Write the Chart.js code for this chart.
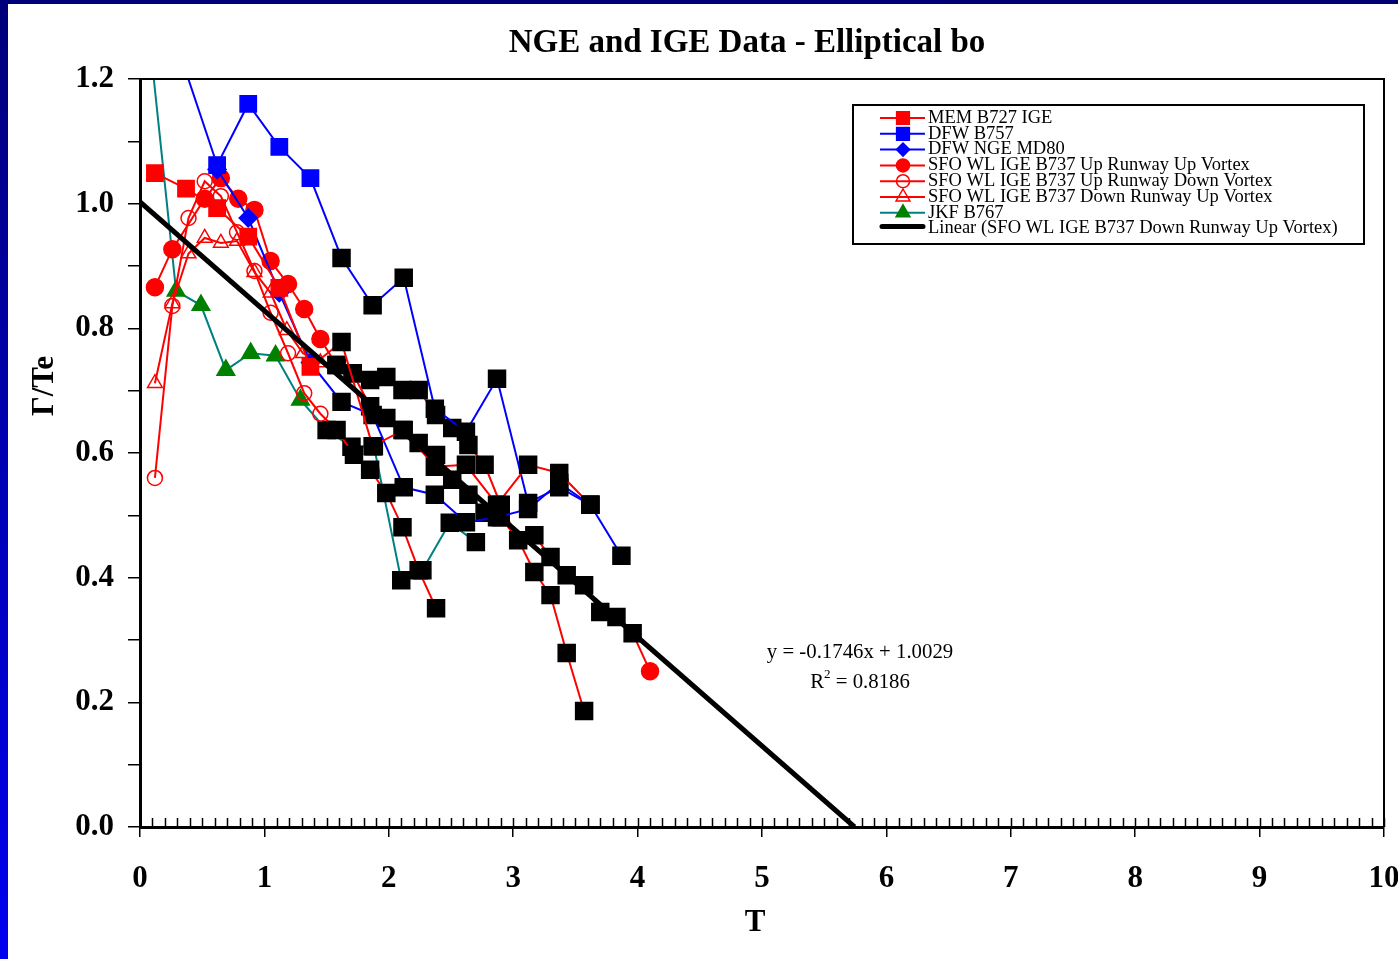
<!DOCTYPE html>
<html><head><meta charset="utf-8">
<script src="https://cdn.jsdelivr.net/npm/chart.js@4.4.0/dist/chart.umd.min.js"></script>
<style>html,body{margin:0;padding:0;background:#fff;overflow:hidden}canvas{display:block}</style>
</head><body>
<canvas id="c" width="1398" height="959"></canvas>
<script>
// ---------- text ----------
const chartTitle = 'NGE and IGE Data - Elliptical bo';
const xAxisTitle = 'T';
const yAxisTitle = 'Γ/Te';
const seriesNames = [
  'MEM B727 IGE',
  'DFW B757',
  'DFW NGE MD80',
  'SFO WL IGE B737 Up Runway Up Vortex',
  'SFO WL IGE B737 Up Runway Down Vortex',
  'SFO WL IGE B737 Down Runway Up Vortex',
  'JKF B767',
  'Linear (SFO WL IGE B737 Down Runway Up Vortex)'
];
// ---------- data (T, Γ/Te) ----------
const memT = [0.12,0.37,0.62,0.87,1.12,1.37,1.62,1.87,2.12,2.37,2.62,2.87,3.12,3.37,3.62];
const memG = [1.049,1.024,0.993,0.947,0.865,0.738,0.778,0.611,0.637,0.578,0.581,0.517,0.581,0.568,0.517];

const b757T = [0.12,0.31,0.62,0.87,1.12,1.37,1.62,1.87,2.12,2.37,2.62,2.87,3.12,3.37,3.62,3.87];
const b757G = [1.35,1.247,1.062,1.16,1.091,1.041,0.913,0.837,0.881,0.671,0.634,0.719,0.52,0.545,0.517,0.435];

const md80T = [0.62,0.87,1.12,1.37,1.62,1.87,2.12,2.37,2.62,2.87,3.12,3.37,3.62];
const md80G = [1.055,0.977,0.857,0.745,0.682,0.661,0.545,0.533,0.489,0.497,0.51,0.552,0.517];

const upUpT = [0.12,0.26,0.52,0.65,0.79,0.92,1.05,1.19,1.32,1.45,1.58,1.71,1.85,1.98,2.11,2.24,2.38,2.51,2.64,2.77,2.9,3.04,3.17,3.3,3.43,3.57,3.7,3.83,3.96,4.1];
const upUpG = [0.866,0.927,1.008,1.041,1.008,0.99,0.908,0.871,0.831,0.783,0.741,0.728,0.675,0.656,0.637,0.616,0.597,0.557,0.533,0.504,0.497,0.46,0.468,0.433,0.404,0.388,0.345,0.337,0.311,0.25];

const upDownT = [0.12,0.26,0.39,0.52,0.65,0.78,0.92,1.05,1.19,1.32,1.45,1.58,1.72,1.85,1.98,2.11,2.24,2.38];
const upDownG = [0.56,0.836,0.977,1.036,1.012,0.954,0.892,0.825,0.76,0.696,0.663,0.637,0.597,0.573,0.536,0.481,0.412,0.351];

const downUpT = [0.12,0.26,0.39,0.52,0.65,0.78,0.92,1.05,1.18,1.31,1.45,1.58,1.71,1.85,1.98,2.11,2.24,2.38,2.51,2.64,2.77,2.9,3.17,3.3,3.43,3.57];
const downUpG = [0.712,0.84,0.92,0.945,0.937,0.94,0.89,0.857,0.797,0.76,0.745,0.741,0.728,0.717,0.722,0.701,0.701,0.661,0.64,0.613,0.581,0.517,0.409,0.372,0.279,0.186];

const jkfT = [0.09,0.29,0.49,0.69,0.89,1.09,1.29,1.5,1.7,1.88,2.1,2.27,2.49,2.7];
const jkfG = [1.24,0.86,0.837,0.733,0.76,0.756,0.685,0.637,0.61,0.611,0.396,0.412,0.488,0.457];

// linear trendline of the Down Runway Up Vortex series
const trendSlope = -0.1746;
const trendIntercept = 1.0029;
const trendR2 = 0.8186;

// axes
const xMin = 0, xMax = 10, xStep = 1, xMinorStep = 0.1;
const yMin = 0, yMax = 1.2, yStep = 0.1, yLabelStep = 0.2;
// range of T where markers are highlighted as black squares
const highlightFrom = 1.5, highlightTo = 4.0;

// ---------- helpers ----------
const FONT = 'Liberation Serif';
const isHi = c => c && c.raw && c.raw.x >= highlightFrom && c.raw.x <= highlightTo;
function series(i, xs, ys, color, style, fill, radius) {
  return {
    label: seriesNames[i],
    data: xs.map((x, k) => ({x: x, y: ys[k]})),
    showLine: true,
    borderColor: color,
    backgroundColor: color,
    borderWidth: 2,
    tension: 0,
    order: i + 1,
    clip: {left: 0, top: 0, right: 0, bottom: 0},
    markerStyle: style, markerFill: fill, markerColor: color,
    pointStyle: c => isHi(c) ? 'rect' : style,
    pointRadius: c => isHi(c) ? 12 : radius,
    pointBackgroundColor: c => isHi(c) ? '#000' : fill,
    pointBorderColor: c => isHi(c) ? '#000' : color,
    pointBorderWidth: 1.5
  };
}
const NONE = 'rgba(0,0,0,0)';
const datasets = [
  series(0, memT, memG, '#ff0000', 'rect', '#ff0000', 11.5),
  series(1, b757T, b757G, '#0000ff', 'rect', '#0000ff', 11.5),
  series(2, md80T, md80G, '#0000ff', 'rectRot', '#0000ff', 9),
  series(3, upUpT, upUpG, '#ff0000', 'circle', '#ff0000', 8.5),
  series(4, upDownT, upDownG, '#ff0000', 'circle', NONE, 7.5),
  series(5, downUpT, downUpG, '#ff0000', 'triangle', NONE, 8.5),
  series(6, jkfT, jkfG, '#008080', 'triangle', '#008000', 10.2)
];
datasets[6].pointBorderColor = c => isHi(c) ? '#000' : '#008000';
datasets[6].markerBorder = '#008000';
const trendEnd = trendIntercept / -trendSlope;
datasets.push({
  label: seriesNames[7],
  data: [0, trendEnd].map(x => ({x: x, y: trendIntercept + trendSlope * x})),
  showLine: true, borderColor: '#000', borderWidth: 5, pointRadius: 0, order: 0,
  clip: {left: 0, top: 0, right: 0, bottom: 0},
  isTrend: true
});

function marker(ctx, style, x, y, r, fill, stroke) {
  ctx.save();
  ctx.beginPath();
  if (style === 'rect') { const s = Math.SQRT1_2 * r; ctx.rect(x - s, y - s, 2 * s, 2 * s); }
  else if (style === 'rectRot') { ctx.moveTo(x - r, y); ctx.lineTo(x, y - r); ctx.lineTo(x + r, y); ctx.lineTo(x, y + r); ctx.closePath(); }
  else if (style === 'triangle') { ctx.moveTo(x, y - r); ctx.lineTo(x + r * 0.866, y + r / 2); ctx.lineTo(x - r * 0.866, y + r / 2); ctx.closePath(); }
  else { ctx.arc(x, y, r, 0, Math.PI * 2); }
  ctx.fillStyle = fill; ctx.fill();
  ctx.lineWidth = 1.5; ctx.strokeStyle = stroke; ctx.stroke();
  ctx.restore();
}

const decor = {
  id: 'decor',
  beforeDraw(chart) {
    const ctx = chart.ctx, W = chart.width, H = chart.height;
    ctx.save();
    ctx.fillStyle = '#fff'; ctx.fillRect(0, 0, W, H);
    let g = ctx.createLinearGradient(0, 0, 0, H);
    g.addColorStop(0, '#00007a'); g.addColorStop(1, '#0000f0');
    ctx.fillStyle = g; ctx.fillRect(0, 0, 8, H);
    g = ctx.createLinearGradient(0, 0, W, 0);
    g.addColorStop(0, '#00007c'); g.addColorStop(1, '#000070');
    ctx.fillStyle = g; ctx.fillRect(0, 0, W, 4);
    ctx.restore();
  },
  afterDraw(chart) {
    const ctx = chart.ctx, a = chart.chartArea;
    const xs = chart.scales.x;
    ctx.save();
    // plot border (top, right)
    ctx.strokeStyle = '#000'; ctx.lineWidth = 2;
    ctx.beginPath(); ctx.moveTo(a.left, a.top); ctx.lineTo(a.right, a.top); ctx.lineTo(a.right, a.bottom); ctx.stroke();
    // inward minor ticks on x axis
    ctx.lineWidth = 1.5;
    ctx.beginPath();
    for (let k = 0; k <= Math.round((xMax - xMin) / xMinorStep); k++) {
      const px = Math.round(xs.getPixelForValue(xMin + k * xMinorStep)) + 0.5;
      ctx.moveTo(px, a.bottom); ctx.lineTo(px, a.bottom - 9);
    }
    ctx.stroke();
    // title
    ctx.fillStyle = '#000';
    ctx.textAlign = 'center'; ctx.textBaseline = 'middle';
    ctx.font = 'bold 33px "' + FONT + '"';
    ctx.fillText(chartTitle, 747, 43);
    // axis titles
    ctx.font = 'bold 31px "' + FONT + '"';
    ctx.fillText(xAxisTitle, 755, 923);
    ctx.save(); ctx.translate(45, 386); ctx.rotate(-Math.PI / 2);
    ctx.fillText(yAxisTitle, 0, 0); ctx.restore();
    // trend equation
    ctx.font = '20.8px "' + FONT + '"';
    ctx.fillText('y = ' + trendSlope.toFixed(4) + 'x + ' + trendIntercept.toFixed(4), 860, 653);
    const rest = ' = ' + trendR2.toFixed(4);
    const wR = ctx.measureText('R').width, wRest = ctx.measureText(rest).width;
    ctx.font = '13px "' + FONT + '"';
    const w2 = ctx.measureText('2').width;
    const x0 = 860 - (wR + w2 + wRest) / 2;
    ctx.textAlign = 'left';
    ctx.fillText('2', x0 + wR, 675);
    ctx.font = '20.8px "' + FONT + '"';
    ctx.fillText('R', x0, 683);
    ctx.fillText(rest, x0 + wR + w2, 683);
    // legend
    const lx = 853, ly = 105, lw = 511, lh = 139;
    ctx.lineWidth = 2; ctx.strokeStyle = '#000';
    ctx.strokeRect(lx, ly, lw, lh);
    ctx.font = '18.5px "' + FONT + '"';
    ctx.textAlign = 'left';
    chart.data.datasets.forEach((ds, i) => {
      const y = 118 + i * 15.8;
      ctx.beginPath();
      if (ds.isTrend) {
        ctx.lineWidth = 5; ctx.lineCap = 'round'; ctx.strokeStyle = '#000';
        ctx.moveTo(882, y - 2); ctx.lineTo(923, y - 2); ctx.stroke();
      } else {
        ctx.lineWidth = 2; ctx.lineCap = 'butt'; ctx.strokeStyle = ds.markerColor;
        ctx.moveTo(880, y); ctx.lineTo(925, y); ctx.stroke();
        marker(ctx, ds.markerStyle, 903, y, ds.markerStyle === 'rect' ? 9 : (ds.markerStyle === 'triangle' ? 8 : 6.5),
               ds.markerFill, ds.markerBorder || ds.markerColor);
      }
      ctx.fillStyle = '#000';
      ctx.fillText(ds.label, 928, y);
    });
    ctx.restore();
  }
};

new Chart(document.getElementById('c'), {
  type: 'scatter',
  data: {datasets: datasets},
  plugins: [decor],
  options: {
    responsive: false,
    animation: false,
    events: [],
    layout: {padding: {top: 79, right: 14, left: 0, bottom: 0}, autoPadding: false},
    plugins: {legend: {display: false}, title: {display: false}, tooltip: {enabled: false}},
    scales: {
      x: {
        type: 'linear', min: xMin, max: xMax,
        afterFit: s => { s.height = 132; s.paddingLeft = 0; s.paddingRight = 0; },
        ticks: {stepSize: xStep, color: '#000', padding: 23, font: {family: FONT, size: 31, weight: 'bold'}, maxRotation: 0},
        grid: {drawOnChartArea: false, drawTicks: true, tickLength: 10, color: '#000', lineWidth: 1.5},
        border: {display: true, color: '#000', width: 3}
      },
      y: {
        type: 'linear', min: yMin, max: yMax,
        afterFit: s => { s.width = 140; s.paddingTop = 0; s.paddingBottom = 0; },
        ticks: {stepSize: yStep, color: '#000', padding: 14, font: {family: FONT, size: 31, weight: 'bold'},
          callback: v => (Math.round(v * 10) % Math.round(yLabelStep * 10) === 0 ? v.toFixed(1) : '')},
        grid: {drawOnChartArea: false, drawTicks: true, tickLength: 12, color: '#000', lineWidth: 1.5},
        border: {display: true, color: '#000', width: 3}
      }
    }
  }
});
</script>
</body></html>
